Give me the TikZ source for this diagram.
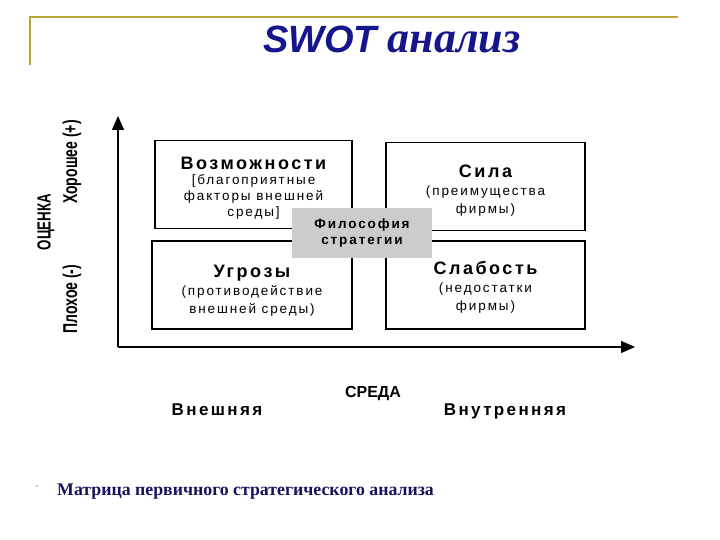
\documentclass[tikz,border=0pt]{standalone}
\usepackage{fontspec}
\setmainfont{Liberation Sans}
\newfontfamily\serifcyr{Liberation Serif}
\newfontfamily\widefont[LetterSpace=14]{Liberation Sans}
\newfontfamily\narrowfont[FakeStretch=0.7]{Liberation Sans}
\usetikzlibrary{arrows.meta}
\definecolor{framegold}{RGB}{188,164,60}
\definecolor{titleblue}{RGB}{22,22,140}
\definecolor{captionblue}{RGB}{20,20,90}
\definecolor{philgray}{RGB}{204,204,204}
\newcommand{\quadtitle}{\widefont\bfseries\fontsize{18}{19}\selectfont}
\newcommand{\quadsub}{\widefont\fontsize{13.5}{16}\selectfont}

\begin{document}
\begin{tikzpicture}[x=1pt, y=-1pt, >={Triangle[length=14pt, width=12pt]},
	quad/.style={draw, line width=1.4pt, fill=white, inner sep=0pt, minimum height=88pt},
	quadtext/.style={align=center, anchor=north, inner sep=0pt, font=\quadsub},
	sidelabel/.style={font=\narrowfont\bfseries\fontsize{20}{20}\selectfont, rotate=90},
	envlabel/.style={font=\widefont\bfseries\fontsize{17}{17}\selectfont, anchor=base}]
	\useasboundingbox (0,0) rectangle (720,540);
	% frame and title
	\draw[framegold, line width=2pt] (30,65) -- (30,17) -- (678,17);
	\node[anchor=base west, inner sep=0pt, text=titleblue] (title) at (263,53) {\fontsize{38}{38}\selectfont\bfseries\itshape SWOT {\serifcyr\fontsize{44}{44}\selectfont анализ}};
	% axes
	\coordinate (origin) at (118,347);
	\coordinate (ytip) at (118,116);
	\coordinate (xtip) at (635,347);
	\draw[->, line width=1.2pt] (origin) -- (ytip);
	\draw[->, line width=1.2pt] (origin) -- (xtip);
	% quadrants
	\node[quad, minimum width=197pt] (opp) at (253.5,184.5) {};
	\node[quad, minimum width=199pt] (str) at (485.5,186.5) {};
	\node[quad, minimum width=200pt] (thr) at (252,285) {};
	\node[quad, minimum width=199pt] (weak) at (485.5,285) {};
	\node[quadtext] (opptext) at (253.5,157) {{\quadtitle Возможности}\\[-1pt] {[}благоприятные\\ факторы внешней\\ среды]};
	\node[quadtext] (strtext) at (485.5,165) {{\quadtitle Сила}\\[2pt] (преимущества\\[2pt] фирмы)};
	\node[quadtext] (thrtext) at (252,265) {{\quadtitle Угрозы}\\[2pt] (противодействие\\[2pt] внешней среды)};
	\node[quadtext] (weaktext) at (485.5,261) {{\quadtitle Слабость}\\[2pt] (недостатки\\[2pt] фирмы)};
	\node[fill=philgray, minimum width=140pt, minimum height=50pt, align=center, font=\widefont\bfseries\fontsize{13.5}{16}\selectfont] (phil) at (362,233) {Философия\\стратегии};
	% axis labels
	\node[sidelabel, font=\narrowfont\bfseries\fontsize{19}{19}\selectfont] (rating) at (46,222) {ОЦЕНКА};
	\node[sidelabel] (good) at (72,162) {Хорошее (+)};
	\node[sidelabel] (bad) at (72,299) {Плохое (-)};
	\node[envlabel, font=\bfseries\fontsize{16}{16}\selectfont] (env) at (373,397) {СРЕДА};
	\node[envlabel] (ext) at (217,415) {Внешняя};
	\node[envlabel] (int) at (505,415) {Внутренняя};
	% caption
	\node[circle, fill=gray!50, inner sep=0pt, minimum size=2.5pt] (dot) at (37,486) {};
	\node[anchor=base west, inner sep=0pt, text=captionblue, font=\serifcyr\bfseries\fontsize{17.8}{18}\selectfont] (caption) at (57,495) {Матрица первичного стратегического анализа};
\end{tikzpicture}
\end{document}
